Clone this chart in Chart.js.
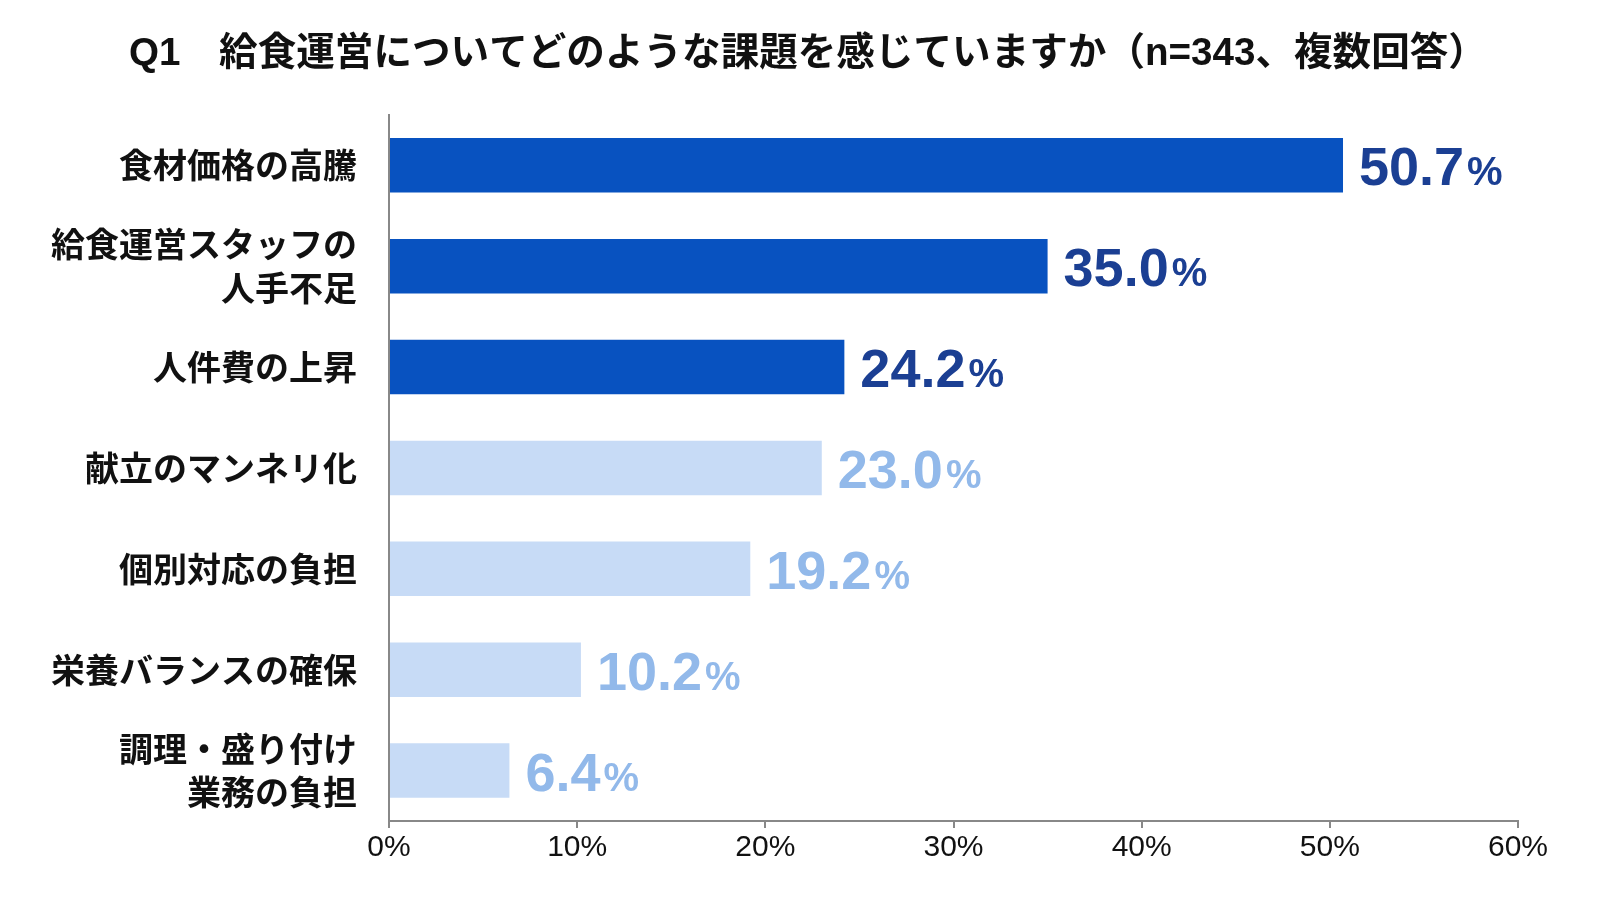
<!DOCTYPE html>
<html>
<head>
<meta charset="utf-8">
<script src="https://cdn.jsdelivr.net/npm/chart.js@4.4.1/dist/chart.umd.min.js"></script>
<style>html,body{margin:0;padding:0;background:#fff}canvas{display:block}</style>
</head>
<body>
<canvas id="c" width="1600" height="900" style="width:1600px;height:900px"></canvas>
<script>
const titleText = 'Q1　給食運営についてどのような課題を感じていますか（n=343、複数回答）';
const categories = [
  '食材価格の高騰',
  '給食運営スタッフの\n人手不足',
  '人件費の上昇',
  '献立のマンネリ化',
  '個別対応の負担',
  '栄養バランスの確保',
  '調理・盛り付け\n業務の負担'
];
const values = [50.7, 35.0, 24.2, 23.0, 19.2, 10.2, 6.4];
const xTickValues = [0, 10, 20, 30, 40, 50, 60];
const highlightCount = 3;

const darkBar = '#0852c0';
const lightBar = '#c7dbf6';
const darkText = '#1b3f93';
const lightText = '#92b9ea';
const latinFont = '"Liberation Sans", Arial, "Noto Sans CJK JP", sans-serif';
const cjkFont = '"Noto Sans CJK JP", "Noto Sans CJK SC", sans-serif';

const valueLabels = {
  id: 'valueLabels',
  afterDatasetsDraw(chart) {
    const ctx = chart.ctx;
    const meta = chart.getDatasetMeta(0);
    meta.data.forEach((bar, i) => {
      const num = values[i].toFixed(1);
      const x = bar.x + 16;
      const y = bar.y + 20;
      ctx.save();
      ctx.fillStyle = i < highlightCount ? darkText : lightText;
      ctx.textAlign = 'left';
      ctx.textBaseline = 'alphabetic';
      ctx.font = 'bold 54px ' + latinFont;
      ctx.fillText(num, x, y);
      const w = ctx.measureText(num).width;
      ctx.font = 'bold 40px ' + latinFont;
      ctx.fillText('%', x + w + 3, y);
      ctx.restore();
    });
  }
};

const centerTitle = {
  id: 'centerTitle',
  afterLayout(chart) {
    const t = chart.titleBlock;
    if (t) {
      t.left = 16;
      t.right = chart.width;
      t.width = chart.width - 16;
    }
  }
};

new Chart(document.getElementById('c'), {
  type: 'bar',
  data: {
    labels: categories.map(c => c.split('\n')),
    datasets: [{
      data: values,
      backgroundColor: values.map((v, i) => i < highlightCount ? darkBar : lightBar),
      borderWidth: 0,
      barPercentage: 0.54,
      categoryPercentage: 1.0
    }]
  },
  options: {
    indexAxis: 'y',
    responsive: false,
    animation: false,
    devicePixelRatio: 1,
    layout: { padding: { left: 0, right: 82, top: 0, bottom: 32 } },
    plugins: {
      legend: { display: false },
      tooltip: { enabled: false },
      title: {
        display: true,
        text: titleText,
        color: '#111',
        font: { family: latinFont, size: 38.6, weight: 'bold', lineHeight: 1.2 },
        padding: { top: 31, bottom: 37.5 }
      }
    },
    scales: {
      x: {
        min: 0,
        max: 60,
        afterBuildTicks: s => { s.ticks = xTickValues.map(v => ({ value: v })); },
        ticks: {
          callback: v => v + '%',
          color: '#111',
          font: { family: latinFont, size: 30 },
          padding: 2,
          maxRotation: 0
        },
        grid: { display: true, drawOnChartArea: false, drawTicks: true, tickLength: 7, color: '#888', lineWidth: 2 },
        border: { display: true, color: '#888', width: 2 }
      },
      y: {
        afterFit: s => { s.width = 389; },
        ticks: {
          color: '#111',
          font: { family: cjkFont, size: 34, weight: 'bold', lineHeight: 1.28 },
          padding: 24
        },
        grid: { display: false },
        border: { display: true, color: '#888', width: 2 }
      }
    }
  },
  plugins: [valueLabels, centerTitle]
});
</script>
</body>
</html>
